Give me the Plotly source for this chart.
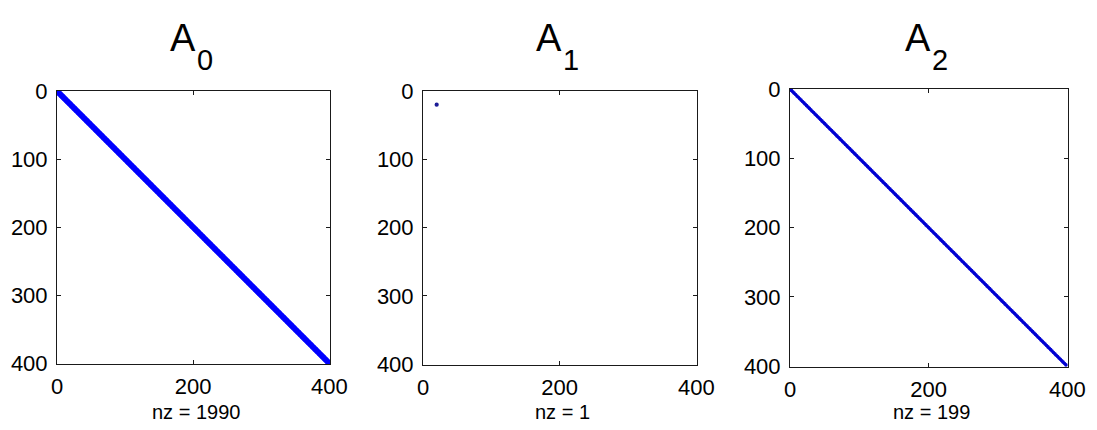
import numpy as np
import plotly.graph_objects as go

# Sparsity structure of the three 400x400 matrices
N = 400
# A0: banded matrix, each diagonal given as (offset, first row, length)
A0_DIAGONALS = [(-2, 3, 398), (-1, 2, 398), (0, 2, 398), (1, 2, 398), (2, 1, 398)]
# A1: a single nonzero (row, col)
A1_ROWS = [20]
A1_COLS = [20]
# A2: main-diagonal entries on every second row
A2_FIRST_ROW = 2
A2_STEP = 2
A2_COUNT = 199

TITLES = ["A", "A", "A"]
SUBSCRIPTS = ["0", "1", "2"]
Y_TICKS = [0, 100, 200, 300, 400]
X_TICKS = [0, 200, 400]


def diag_entries(diags):
    rows, cols = [], []
    for off, r0, length in diags:
        r = np.arange(r0, r0 + length)
        rows.append(r)
        cols.append(r + off)
    return np.concatenate(rows), np.concatenate(cols)


a0_r, a0_c = diag_entries(A0_DIAGONALS)
a2_r = np.arange(A2_COUNT) * A2_STEP + A2_FIRST_ROW
a2_c = a2_r.copy()
a1_r = np.array(A1_ROWS)
a1_c = np.array(A1_COLS)

W, H = 1097, 430
# axes boxes in pixels: (left, right, top, bottom)
boxes = [(57, 330, 91, 364), (423, 697, 91, 365), (790, 1068, 89, 367)]
colors = ["#0000ff", "#1c1c96", "#0000d2"]
sizes = [3.8, 4.2, 3.6]
data = [(a0_c, a0_r), (a1_c, a1_r), (a2_c, a2_r)]

fig = go.Figure()
font_family = "Liberation Sans, Arial, sans-serif"

for i, ((cx, ry), box, col, sz) in enumerate(zip(data, boxes, colors, sizes)):
    sfx = "" if i == 0 else str(i + 1)
    fig.add_trace(go.Scatter(
        x=cx, y=ry, mode="markers",
        marker=dict(color=col, size=sz, line=dict(width=0)),
        xaxis="x" + sfx, yaxis="y" + sfx, showlegend=False,
        hoverinfo="skip",
    ))
    l, r, t, b = box
    axis_common = dict(
        showline=True, linecolor="#1a1a1a", linewidth=1, mirror="ticks",
        ticks="inside", ticklen=4, tickcolor="#1a1a1a", tickwidth=1,
        showgrid=False, zeroline=False, automargin=False,
        tickfont=dict(family=font_family, size=22, color="black"),
    )
    fig.layout["xaxis" + sfx] = dict(
        axis_common, domain=[l / W, r / W], range=[0, N + 1],
        tickvals=X_TICKS, anchor="y" + sfx, ticklabelstandoff=3,
    )
    fig.layout["yaxis" + sfx] = dict(
        axis_common, domain=[1 - b / H, 1 - t / H], range=[N + 1, 0],
        tickvals=Y_TICKS, anchor="x" + sfx, ticklabelstandoff=4,
    )
    cxp = (l + r) / 2
    # x label showing the nonzero count
    fig.add_annotation(text=f"nz = {len(cx)}", x=(cxp + 2) / W, y=1 - 412 / H,
                       xref="paper", yref="paper", xanchor="center", yanchor="middle",
                       showarrow=False, borderpad=0,
                       font=dict(family=font_family, size=20, color="black"))
    fig.add_annotation(text=TITLES[i], x=(cxp + 4) / W, y=1 - 38 / H,
                       xref="paper", yref="paper", xanchor="right", yanchor="middle",
                       showarrow=False, font=dict(family=font_family, size=38, color="black"))
    fig.add_annotation(text=SUBSCRIPTS[i], x=(cxp + 1) / W, y=1 - 60 / H,
                       xref="paper", yref="paper", xanchor="left", yanchor="middle",
                       showarrow=False, font=dict(family=font_family, size=29, color="black"))

fig.update_layout(
    width=W, height=H, margin=dict(l=0, r=0, t=0, b=0),
    paper_bgcolor="white", plot_bgcolor="white",
)
fig.write_html("out.html")
